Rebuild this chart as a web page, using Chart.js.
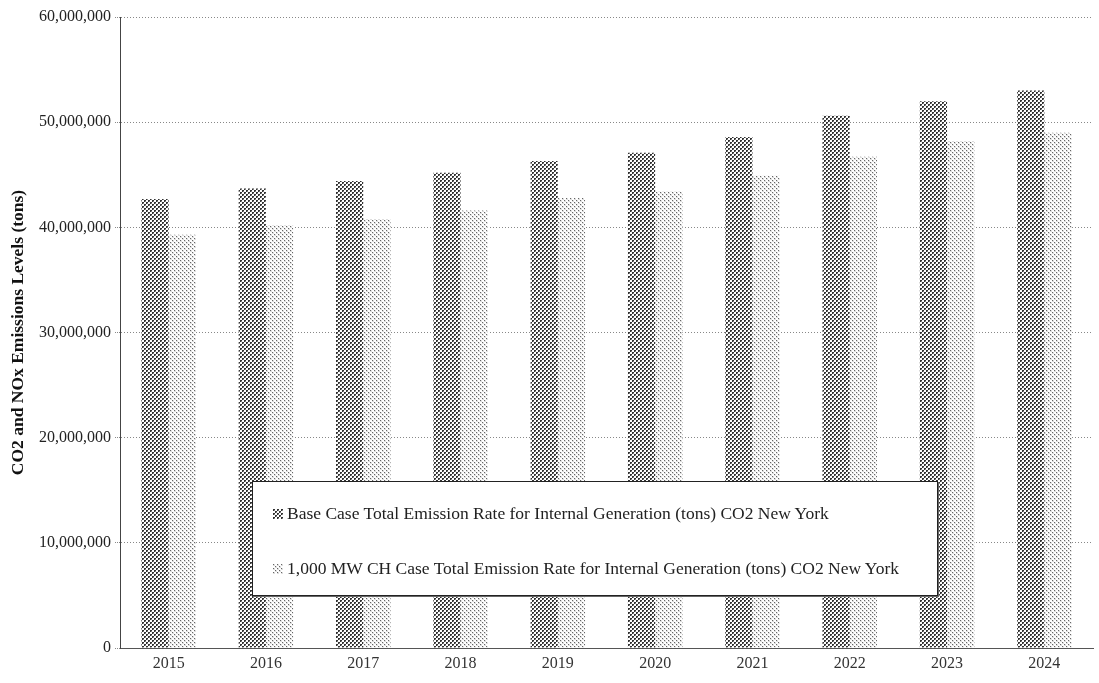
<!DOCTYPE html>
<html>
<head>
<meta charset="utf-8">
<script src="https://cdn.jsdelivr.net/npm/chart.js@4.4.1/dist/chart.umd.min.js"></script>
<style>
  html, body { margin: 0; padding: 0; background: #fff; }
  #wrap { position: relative; width: 1099px; height: 683px; }
  #legend {
    position: absolute; left: 252px; top: 481px; width: 684px; height: 113px;
    border: 1px solid #222; box-shadow: 1px 1px 0 #666; background: #fff;
    font-family: "Liberation Serif", serif; font-size: 17.5px; color: #222;
  }
  #legend .item { position: absolute; left: 20px; display: flex; align-items: center; }
  #legend .swatch { width: 10px; height: 10px; margin-right: 4px; }
</style>
</head>
<body>
<div id="wrap">
  <canvas id="chart" width="1099" height="683"></canvas>
  <div id="legend"></div>
</div>
<script>
// chart data
const years = ['2015', '2016', '2017', '2018', '2019', '2020', '2021', '2022', '2023', '2024'];
const baseCase = [42700000, 43700000, 44400000, 45200000, 46300000, 47100000, 48600000, 50600000, 52000000, 53000000];
const chCase = [39300000, 40200000, 40800000, 41600000, 42800000, 43400000, 44900000, 46700000, 48200000, 49000000];
const seriesNames = [
    'Base Case Total Emission Rate for Internal Generation (tons) CO2 New York',
    '1,000 MW CH Case Total Emission Rate for Internal Generation (tons) CO2 New York'
];
const yTicks = [0, 10000000, 20000000, 30000000, 40000000, 50000000, 60000000];

// dotted fills like the print
function makeTile(dark) {
    const c = document.createElement('canvas');
    c.width = 4; c.height = 4;
    const g = c.getContext('2d');
    g.fillStyle = '#fff';
    g.fillRect(0, 0, 4, 4);
    if (dark) {
        g.fillStyle = '#bbb';
        g.fillRect(0, 0, 4, 4);
        g.fillStyle = '#fff';
        g.fillRect(2, 0, 2, 2);
        g.fillRect(0, 2, 2, 2);
        g.fillStyle = '#333';
        g.fillRect(0, 0, 2, 2);
        g.fillRect(2, 2, 2, 2);
        g.fillStyle = '#888';
        g.fillRect(1, 1, 1, 1);
        g.fillRect(3, 3, 1, 1);
    } else {
        g.fillStyle = '#ddd';
        g.fillRect(0, 0, 2, 2);
        g.fillRect(2, 2, 2, 2);
        g.fillStyle = '#666';
        g.fillRect(0, 0, 1, 1);
        g.fillRect(2, 2, 1, 1);
    }
    return c;
}
const darkTile = makeTile(true);
const lightTile = makeTile(false);
const ctx = document.getElementById('chart').getContext('2d');
const darkFill = ctx.createPattern(darkTile, 'repeat');
const lightFill = ctx.createPattern(lightTile, 'repeat');

const serif = '"Liberation Serif", serif';

new Chart(ctx, {
    type: 'bar',
    data: {
        labels: years,
        datasets: [
            { label: seriesNames[0], data: baseCase, backgroundColor: darkFill, borderWidth: 0 },
            { label: seriesNames[1], data: chCase, backgroundColor: lightFill, borderWidth: 0 }
        ]
    },
    options: {
        responsive: false,
        animation: false,
        layout: { padding: { top: 17, right: 6, left: 0, bottom: 0 } },
        plugins: {
            legend: { display: false },
            tooltip: { enabled: false }
        },
        datasets: {
            bar: { categoryPercentage: 0.56, barPercentage: 1.0 }
        },
        scales: {
            x: {
                grid: { display: false, tickLength: 4 },
                border: { display: true, color: '#555', dash: [1, 2] },
                ticks: { color: '#333', font: { family: serif, size: 16 }, padding: 2 },
                afterFit: s => { s.height = 35; }
            },
            y: {
                min: 0,
                max: 60000000,
                afterBuildTicks: s => { s.ticks = yTicks.map(v => ({ value: v })); },
                grid: { color: '#888', borderDash: [2, 2], tickLength: 5, tickBorderDash: [1, 1] },
                border: { display: true, color: '#444', dash: [1, 2] },
                ticks: {
                    color: '#222',
                    font: { family: serif, size: 16 },
                    padding: 4,
                    callback: v => v.toLocaleString('en-US')
                },
                title: {
                    display: true,
                    text: 'CO2 and NOx Emissions Levels (tons)',
                    color: '#111',
                    font: { family: serif, size: 17.5, weight: 'bold' },
                    padding: { top: 8, bottom: 0 }
                },
                afterFit: s => { s.width = 120; }
            }
        }
    }
});

// legend box laid over the plot
const legend = document.getElementById('legend');
const tiles = [darkTile, lightTile];
seriesNames.forEach((name, i) => {
    const sw = document.createElement('canvas');
    sw.width = 10; sw.height = 10;
    const g = sw.getContext('2d');
    g.fillStyle = g.createPattern(tiles[i], 'repeat');
    g.fillRect(0, 0, 10, 10);
    sw.className = 'swatch';
    const item = document.createElement('div');
    item.className = 'item';
    item.style.top = (i === 0 ? 21 : 76) + 'px';
    item.appendChild(sw);
    const span = document.createElement('span');
    span.textContent = name;
    item.appendChild(span);
    legend.appendChild(item);
});
</script>
</body>
</html>
